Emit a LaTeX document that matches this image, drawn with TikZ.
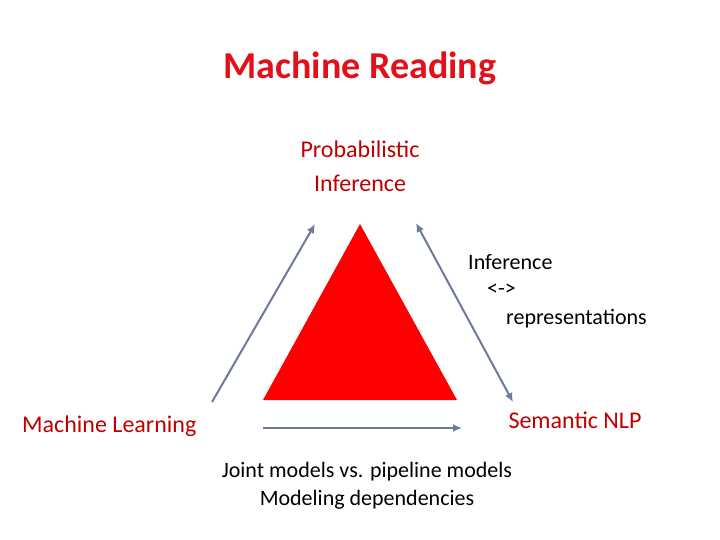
\documentclass[tikz,border=0pt]{standalone}
\usepackage{fontspec}
\setmainfont{Carlito}
\usetikzlibrary{arrows.meta}
\definecolor{tred}{HTML}{E3101A}
\definecolor{dred}{HTML}{C00000}
\definecolor{arr}{HTML}{6E7A9C}
\tikzset{conn/.style={draw=arr,line width=2pt,-{Latex[length=9pt,width=8pt]}},
lbl/.style={inner sep=0pt,font=\fontsize{22}{28}\selectfont}}
\begin{document}
\begin{tikzpicture}[x=1pt,y=-1pt]
\useasboundingbox (0,0) rectangle (720,540);
\node[lbl,text=tred,font=\fontsize{38}{44}\selectfont\bfseries] (title) at (360,68) {Machine Reading};
\node[lbl,text=dred,align=center,font=\fontsize{24}{34}\selectfont] (pi) at (360,166) {Probabilistic\\Inference};
\fill[red] (360,224) -- (263,400) -- (457,400) -- cycle;
\node[lbl,text=dred,anchor=west,font=\fontsize{24}{30}\selectfont] (ml) at (22,426) {Machine Learning};
\node[lbl,text=dred,font=\fontsize{24}{30}\selectfont] (nlp) at (575,420) {Semantic NLP};
\node[lbl,anchor=west] (i1) at (468,262) {Inference};
\node[lbl,anchor=west] (i2) at (487,290) {<->};
\node[lbl,anchor=west] (i3) at (506,319) {representations};
\node[lbl] (b1) at (367,472) {Joint models vs. pipeline models};
\node[lbl] (b2) at (367,500) {Modeling dependencies};
\coordinate (a1) at (212,402); \coordinate (a2) at (315,224);
\coordinate (r1) at (416,223); \coordinate (r2) at (513,402);
\coordinate (h1) at (263,428); \coordinate (h2) at (462,428);
\draw[conn] (a1) -- (a2);
\draw[conn,{Latex[length=9pt,width=8pt]}-{Latex[length=9pt,width=8pt]}] (r1) -- (r2);
\draw[conn] (h1) -- (h2);
\end{tikzpicture}
\end{document}
